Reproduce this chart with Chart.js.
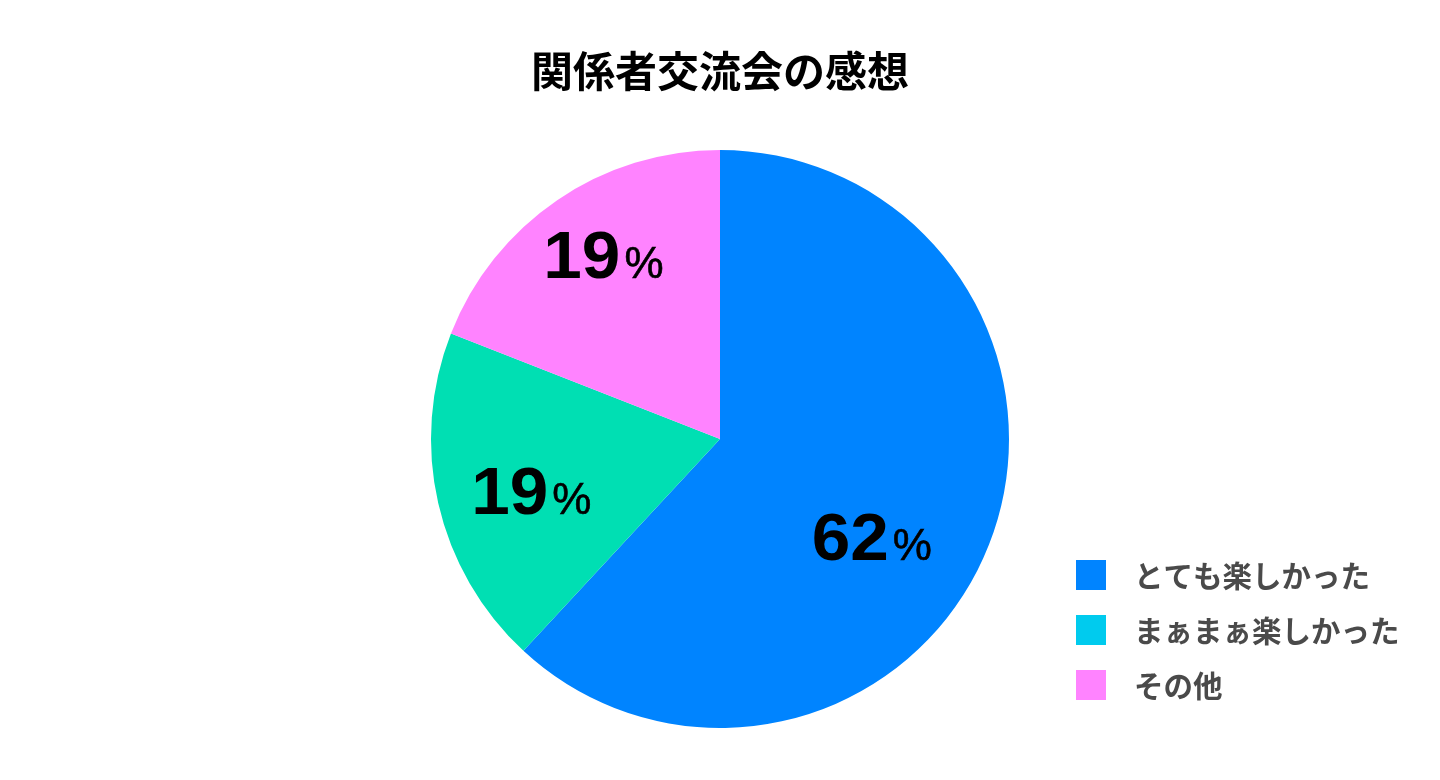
<!DOCTYPE html>
<html>
<head>
<meta charset="utf-8">
<script src="https://cdn.jsdelivr.net/npm/chart.js@4/dist/chart.umd.min.js"></script>
<style>
  html, body { margin: 0; padding: 0; background: #ffffff; }
  #wrap { width: 1440px; height: 780px; position: relative; }
</style>
</head>
<body>
<div id="wrap"><canvas id="c" width="1440" height="780"></canvas></div>
<script>
const chartTitle = "関係者交流会の感想";
const categories = ["とても楽しかった", "まぁまぁ楽しかった", "その他"];
const responses = [13, 4, 4];
const sliceColors = ["#0084FF", "#00DFB3", "#FF83FF"];
const legendColors = ["#0084FF", "#00CBEE", "#FF83FF"];
// label placement inside each slice: [fraction of slice angle, fraction of radius]
const labelPlacement = [[0.551, 0.625], [0.463, 0.677], [0.529, 0.755]];

const total = responses.reduce((a, b) => a + b, 0);

const pctLabels = {
  id: 'pctLabels',
  afterDatasetsDraw(chart) {
    const ctx = chart.ctx;
    const meta = chart.getDatasetMeta(0);
    meta.data.forEach((arc, i) => {
      const p = arc.getProps(['x', 'y', 'startAngle', 'endAngle', 'outerRadius'], true);
      const [af, rf] = labelPlacement[i];
      const ang = p.startAngle + (p.endAngle - p.startAngle) * af;
      const r = p.outerRadius * rf;
      const cx = p.x + Math.cos(ang) * r;
      const cy = p.y + Math.sin(ang) * r;
      const num = String(Math.round(responses[i] / total * 100));
      ctx.save();
      ctx.fillStyle = '#000000';
      ctx.textBaseline = 'alphabetic';
      ctx.textAlign = 'left';
      const sx = 1.05;
      const gap = 4;
      const fNum = 'bold 66px "Liberation Sans", Arial, sans-serif';
      const fPct = 'normal 44px "Liberation Sans", Arial, sans-serif';
      ctx.font = fNum;
      const wNum = ctx.measureText(num).width * sx;
      ctx.font = fPct;
      const wPct = ctx.measureText('%').width;
      const x0 = cx - (wNum + gap + wPct) / 2;
      const base = cy + 23.5;
      ctx.font = fNum;
      ctx.save();
      ctx.translate(x0, base);
      ctx.scale(sx, 1);
      ctx.fillText(num, 0, 0);
      ctx.restore();
      ctx.font = fPct;
      ctx.lineWidth = 0.6;
      ctx.strokeStyle = '#000000';
      ctx.fillText('%', x0 + wNum + gap, base);
      ctx.strokeText('%', x0 + wNum + gap, base);
      ctx.restore();
    });
  }
};

const customLegend = {
  id: 'customLegend',
  afterDraw(chart) {
    const ctx = chart.ctx;
    const boxX = 1076, firstY = 560, box = 30, step = 55, textX = 1134;
    ctx.save();
    ctx.font = 'bold 29.5px "Noto Sans CJK JP", sans-serif';
    ctx.textBaseline = 'middle';
    ctx.textAlign = 'left';
    chart.data.labels.forEach((lab, i) => {
      const y = firstY + i * step;
      ctx.fillStyle = legendColors[i];
      ctx.fillRect(boxX, y, box, box);
      ctx.fillStyle = '#4a4a4a';
      ctx.fillText(lab, textX, y + box / 2 + 1);
    });
    ctx.restore();
  }
};

new Chart(document.getElementById('c'), {
  type: 'pie',
  data: {
    labels: categories,
    datasets: [{
      data: responses,
      backgroundColor: sliceColors,
      borderWidth: 0,
      hoverOffset: 0
    }]
  },
  options: {
    responsive: false,
    animation: false,
    events: [],
    layout: { padding: { top: 0, bottom: 52, left: 0, right: 0 } },
    plugins: {
      legend: { display: false },
      tooltip: { enabled: false },
      title: {
        display: true,
        text: chartTitle,
        color: '#000000',
        font: { family: '"Noto Sans CJK JP", sans-serif', size: 42, weight: 'bold', lineHeight: 1.2 },
        padding: { top: 46, bottom: 53.6 }
      }
    }
  },
  plugins: [pctLabels, customLegend]
});
</script>
</body>
</html>
